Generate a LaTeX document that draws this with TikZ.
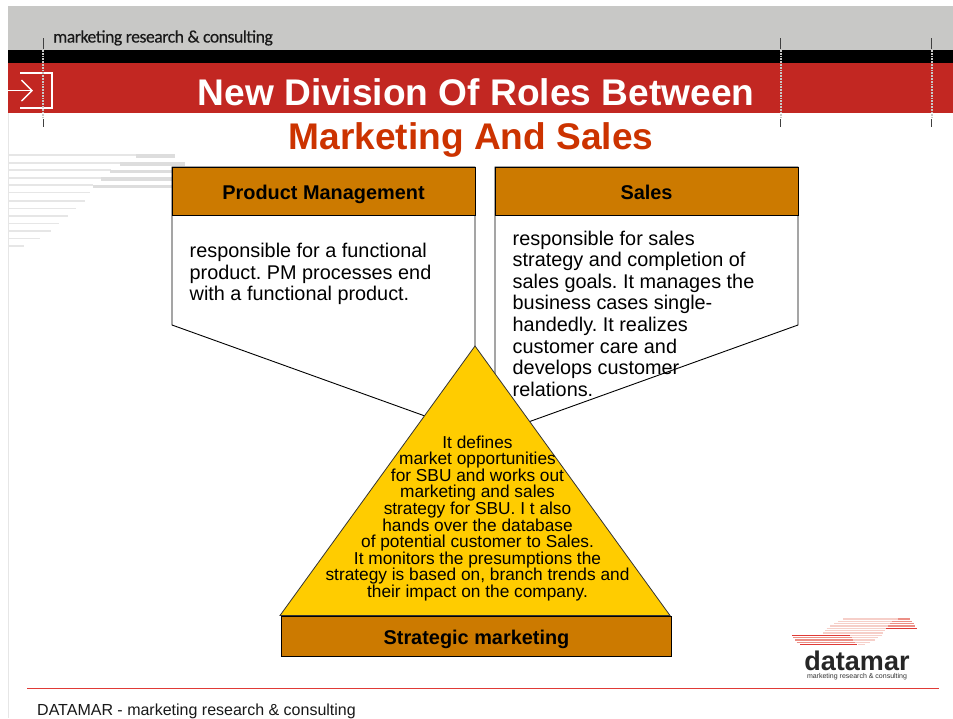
\documentclass[tikz,border=0pt]{standalone}
\usepackage{fontspec}
\setmainfont{Liberation Sans}
\newfontfamily\hdrfont[LetterSpace=-2.5,FakeBold=0.25]{Carlito}
\definecolor{barred}{HTML}{C22722}
\definecolor{bargray}{HTML}{C8C8C6}
\definecolor{hdrbrown}{HTML}{CC7A00}
\definecolor{pyr}{HTML}{FFCC00}
\definecolor{titlered}{HTML}{CC3300}
\definecolor{stripe}{HTML}{E6E6E6}
\definecolor{stripedark}{HTML}{DDDDDD}
\definecolor{logored}{HTML}{E03A36}
\definecolor{logomid}{HTML}{EC8F86}
\definecolor{logopale}{HTML}{F6CFC9}
\tikzset{
  x=1pt,y=-1pt,
  outl/.style={draw=black,line width=0.9pt,line join=miter},
  headbox/.style={outl,fill=hdrbrown,minimum width=303pt,minimum height=48pt,inner sep=0pt,outer sep=0pt,anchor=north west},
  headtxt/.style={font=\fontsize{19.9}{21}\selectfont\bfseries,inner sep=0pt,anchor=base},
  bodytxt/.style={font=\fontsize{19.85}{21.6}\selectfont,inner sep=0pt,anchor=north west,align=left},
  pyrtxt/.style={font=\fontsize{17.3}{16.6}\selectfont,inner sep=0pt,anchor=north,align=center},
  dotv/.style={draw=bargray,line width=1.8pt,dash pattern=on 1.7pt off 1.1pt},
  tick/.style={draw=black!75,line width=0.8pt},
}
\begin{document}
\frenchspacing
\begin{tikzpicture}
\useasboundingbox (0,0) rectangle (953,718);
\fill[white] (0,0) rectangle (953,718);
\draw[stripe,line width=1pt] (8.5,113) -- (8.5,718);
% header bars
\fill[bargray] (8,6) rectangle (953,50);
\fill[black] (8,50) rectangle (953,63);
\fill[barred] (8,63) rectangle (953,113);
% left stripes
\foreach \y/\xe in {155/136,162.7/120,170/111,177.7/101,185/93,192.3/90,200.7/85,208.3/76,216/68,223.3/59,231/51,238.3/40,246/24}
  \draw[stripe,line width=1.6pt] (8,\y) -- (\xe,\y);
\foreach \y/\xa/\xe in {156/136/175,164/120/185,171.5/110/175,179/101/175,186.5/93/175}
  \draw[stripedark,line width=3.4pt] (\xa,\y) -- (\xe,\y);
% icon
\draw[white,line width=1.4pt] (20,73) -- (52,73) -- (52,108) -- (20,108);
\draw[white,line width=1.4pt] (8,90.7) -- (31,90.7);
\draw[white,line width=1.4pt] (21.5,80) -- (32,90.7) -- (21.5,101);
% registration marks
\foreach \x in {43.3,780.8,931.8}{
  \draw[dotv] (\x,50) -- (\x,118);
  \draw[tick] (\x,38) -- (\x,49);
  \draw[tick] (\x,119) -- (\x,127);
}
% texts in header
\node[font=\hdrfont\fontsize{17.6}{19}\selectfont,inner sep=0pt,anchor=base west,text=black!90] (hdr) at (53,42.5) {marketing research \& consulting};
\node[font=\fontsize{37.1}{38}\selectfont\bfseries,text=white,inner sep=0pt,anchor=base] (title1) at (476,105.5) {New Division Of Roles Between};
\node[font=\fontsize{37.1}{38}\selectfont\bfseries,text=titlered,inner sep=0pt,anchor=base] (title2) at (471,149) {Marketing And Sales};
% boxes
\draw[outl,fill=white] (172,167) -- (475,167) -- (475,434) -- (172,325) -- cycle;
\draw[outl,fill=white] (495,167) -- (798,167) -- (798,325) -- (495,434) -- cycle;
\node[headbox] (pmhead) at (172,167) {};
\node[headbox] (saleshead) at (495,167) {};
\node[headtxt] (pmlabel) at (323.5,199) {Product Management};
\node[headtxt] (saleslabel) at (646.5,199) {Sales};
\node[bodytxt] (pmbody) at (189.5,243) {responsible for a functional\\product. PM processes end\\with a functional product.};
% pyramid
\draw[draw=black!80,line width=0.8pt,fill=pyr,line join=miter] (475,346) -- (670,615.5) -- (280,615.5) -- cycle;
\node[headbox,minimum width=390pt,minimum height=40pt] (stratbox) at (281.5,616.5) {};
\node[headtxt] (stratlabel) at (476.5,644) {Strategic marketing};
\node[bodytxt] (salesbody) at (512.5,230.5) {responsible for sales\\strategy and completion of\\sales goals. It manages the\\business cases single-\\handedly. It realizes\\customer care and\\develops customer\\relations.};
\node[pyrtxt] (pyrbody) at (477.5,435.3) {It defines\\market opportunities\\for SBU and works out\\marketing and sales\\strategy for SBU. I t also\\hands over the database\\of potential customer to Sales.\\It monitors the presumptions the\\strategy is based on, branch trends and\\their impact on the company.};
% logo
\foreach \zy/\za/\zb/\zc in {57/250/450/logopale,64/235/455/logopale,71/222/462/logopale,78/210/390/logopale,85/200/390/logopale,92/195/375/logopale,99/190/370/logopale,106/270/365/logopale,113/270/355/logopale,120/280/345/logopale,127/285/330/logopale,134/295/315/logopale,57/415/450/logomid,64/395/455/logomid,71/390/462/logomid,78/385/465/logomid,85/378/470/logored,106/97/270/logored,113/100/275/logomid,120/105/280/logomid,127/110/285/logomid,134/120/292/logored}
  \draw[\zc,line width=1.4pt] ({760+\za/3},{600+\zy/3}) -- ({760+\zb/3},{600+\zy/3});
\node[font=\fontsize{27}{28}\selectfont\bfseries,text=black!85,inner sep=0pt,anchor=base] (logoname) at (857,670.5) {datamar};
\node[font=\fontsize{7}{8}\selectfont,text=black!80,inner sep=0pt,anchor=base] (logosub) at (857,678.3) {marketing research \& consulting};
% footer
\draw[draw=logored,line width=1pt] (27,688) -- (939,688);
\node[font=\fontsize{16}{18}\selectfont,inner sep=0pt,anchor=base west,text=black!90] (foot) at (37,715) {DATAMAR - marketing research \& consulting};
\end{tikzpicture}
\end{document}
